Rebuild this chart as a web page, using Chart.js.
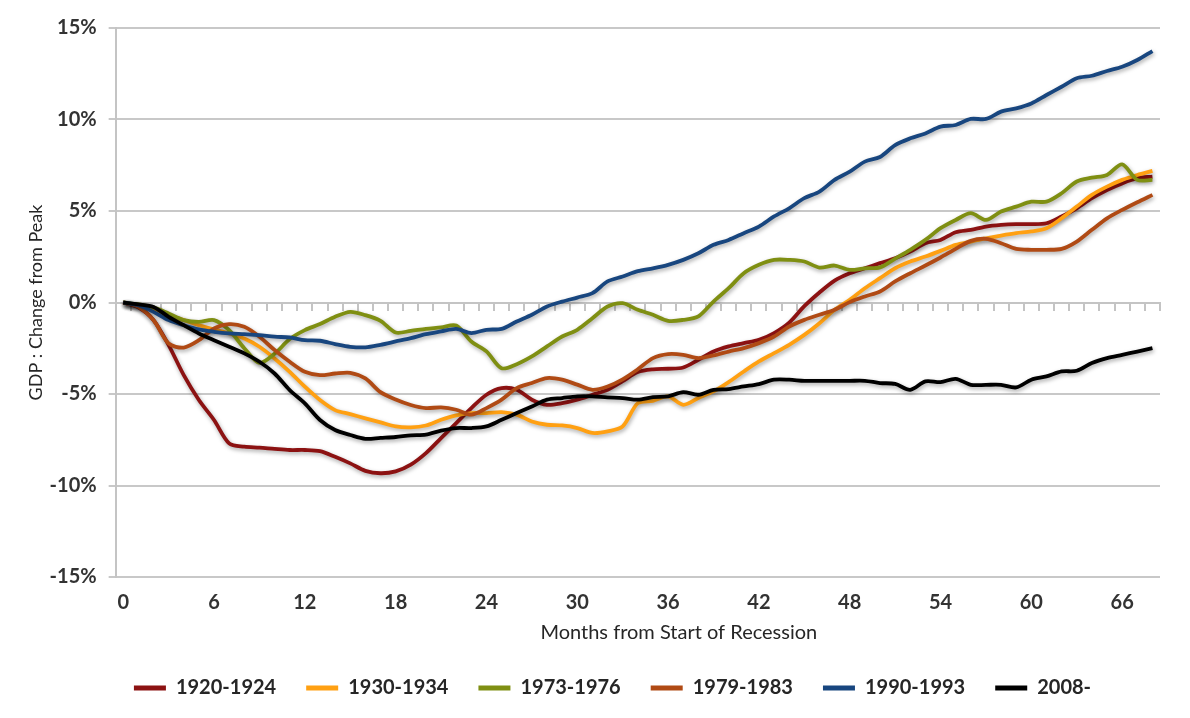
<!DOCTYPE html>
<html><head><meta charset="utf-8">
<script src="https://cdn.jsdelivr.net/npm/chart.js@4.4.0/dist/chart.umd.min.js"></script>
<style>html,body{margin:0;padding:0;background:#fff;}#wrap{width:1190px;height:718px;position:relative;}</style>
</head><body><div id="wrap"><canvas id="c"></canvas></div>
<script>
// Months from start of recession (categories)
const months = ['0','1','2','3','4','5','6','7','8','9','10','11','12','13','14','15','16','17','18','19','20','21','22','23','24','25','26','27','28','29','30','31','32','33','34','35','36','37','38','39','40','41','42','43','44','45','46','47','48','49','50','51','52','53','54','55','56','57','58','59','60','61','62','63','64','65','66','67','68'];
const xTickLabels = ['0','6','12','18','24','30','36','42','48','54','60','66'];
const yTickValues = [-15,-10,-5,0,5,10,15];
const seriesNames = ['1920-1924','1930-1934','1973-1976','1979-1983','1990-1993','2008-'];
const xAxisTitle = 'Months from Start of Recession';
const yAxisTitle = 'GDP : Change from Peak';

// GDP change from peak (%)
const s1920 = [0,-0.27,-0.96,-2.33,-3.97,-5.33,-6.42,-7.70,-7.88,-7.93,-8.0,-8.06,-8.06,-8.12,-8.43,-8.79,-9.2,-9.33,-9.23,-8.86,-8.23,-7.41,-6.59,-5.77,-5.04,-4.68,-4.77,-5.31,-5.59,-5.50,-5.31,-5.04,-4.77,-4.3,-3.8,-3.65,-3.62,-3.55,-3.13,-2.68,-2.4,-2.22,-2.04,-1.67,-1.1,-0.2,0.55,1.2,1.6,1.87,2.15,2.42,2.78,3.24,3.42,3.84,3.97,4.15,4.24,4.28,4.28,4.33,4.70,5.15,5.70,6.15,6.51,6.79,6.88];
const s1930 = [0,-0.15,-0.33,-0.69,-0.96,-1.24,-1.47,-1.69,-1.97,-2.42,-3.06,-3.79,-4.60,-5.33,-5.88,-6.10,-6.33,-6.55,-6.77,-6.82,-6.72,-6.41,-6.17,-6.04,-6.04,-5.99,-6.13,-6.50,-6.68,-6.72,-6.86,-7.13,-7.04,-6.77,-5.50,-5.37,-5.13,-5.59,-5.22,-4.86,-4.35,-3.77,-3.22,-2.77,-2.31,-1.77,-1.13,-0.40,0.15,0.78,1.33,1.87,2.24,2.51,2.82,3.15,3.33,3.51,3.66,3.79,3.88,4.06,4.60,5.24,5.88,6.33,6.70,6.97,7.19];
const s1973 = [0,-0.1,-0.27,-0.60,-0.96,-1.06,-0.96,-1.51,-2.5,-3.3,-2.8,-2.0,-1.51,-1.18,-0.78,-0.51,-0.69,-1.0,-1.64,-1.55,-1.44,-1.36,-1.26,-2.13,-2.67,-3.59,-3.37,-2.95,-2.40,-1.86,-1.49,-0.86,-0.22,-0.04,-0.40,-0.67,-1.0,-0.95,-0.76,0.05,0.78,1.60,2.06,2.33,2.33,2.24,1.91,2.02,1.78,1.87,1.92,2.4,2.88,3.42,4.06,4.51,4.88,4.51,4.97,5.24,5.51,5.51,5.97,6.61,6.82,6.97,7.55,6.70,6.70];
const s1979 = [0,-0.24,-0.96,-2.24,-2.46,-2.06,-1.42,-1.18,-1.33,-1.87,-2.60,-3.24,-3.79,-3.97,-3.88,-3.84,-4.15,-4.9,-5.3,-5.6,-5.77,-5.73,-5.86,-6.13,-5.77,-5.31,-4.68,-4.40,-4.13,-4.22,-4.49,-4.77,-4.59,-4.2,-3.65,-3.04,-2.82,-2.86,-3.04,-2.89,-2.68,-2.49,-2.22,-1.86,-1.31,-0.95,-0.67,-0.40,0.02,0.33,0.6,1.15,1.60,2.02,2.46,2.93,3.37,3.48,3.24,2.93,2.88,2.88,2.93,3.33,3.97,4.60,5.06,5.48,5.88];
const s1990 = [0,-0.15,-0.51,-0.96,-1.24,-1.47,-1.60,-1.69,-1.73,-1.78,-1.87,-1.91,-2.06,-2.09,-2.27,-2.42,-2.45,-2.31,-2.13,-1.95,-1.73,-1.58,-1.44,-1.67,-1.49,-1.44,-1.04,-0.67,-0.22,0.05,0.27,0.51,1.15,1.42,1.71,1.87,2.06,2.33,2.69,3.15,3.42,3.79,4.15,4.70,5.15,5.70,6.06,6.70,7.15,7.70,7.95,8.6,8.97,9.24,9.61,9.70,10.03,10.03,10.43,10.61,10.88,11.34,11.79,12.25,12.39,12.65,12.88,13.25,13.74];
const s2008 = [0,-0.1,-0.24,-0.78,-1.24,-1.69,-2.06,-2.42,-2.78,-3.24,-3.88,-4.79,-5.51,-6.42,-6.97,-7.24,-7.45,-7.4,-7.35,-7.26,-7.22,-7.0,-6.86,-6.86,-6.77,-6.41,-6.04,-5.68,-5.31,-5.22,-5.13,-5.13,-5.19,-5.22,-5.31,-5.17,-5.13,-4.9,-5.04,-4.77,-4.73,-4.59,-4.46,-4.22,-4.22,-4.28,-4.28,-4.28,-4.28,-4.28,-4.4,-4.45,-4.77,-4.31,-4.35,-4.17,-4.50,-4.50,-4.50,-4.64,-4.22,-4.04,-3.77,-3.73,-3.31,-3.04,-2.86,-2.68,-2.49];

const seriesValues = [s1920, s1930, s1973, s1979, s1990, s2008];
const seriesColors = ['#8c1212', '#ffa012', '#7f8f12', '#b04a14', '#18467f', '#000000'];

Chart.defaults.font.family = 'Lato, "Open Sans", sans-serif';

const shadowPlugin = {
  id: 'lineShadow',
  beforeDatasetDraw(chart) {
    const ctx = chart.ctx;
    ctx.save();
    ctx.shadowColor = 'rgba(0,0,0,0.35)';
    ctx.shadowBlur = 4;
    ctx.shadowOffsetX = 1;
    ctx.shadowOffsetY = 2;
  },
  afterDatasetDraw(chart) { chart.ctx.restore(); }
};

// Excel-style layout tweaks: legend shifted right, x-axis title off-centre
const layoutPlugin = {
  id: 'layoutTweaks',
  afterLayout(chart) {
    const lg = chart.legend;
    if (lg) { lg.left += 24; lg.right += 24; }
  },
  afterDraw(chart) {
    const x = chart.scales.x;
    const ctx = chart.ctx;
    ctx.save();
    ctx.font = '20px Lato, "Open Sans", sans-serif';
    ctx.fillStyle = '#262626';
    ctx.textAlign = 'center';
    ctx.textBaseline = 'middle';
    ctx.fillText(xAxisTitle, (x.left + x.right) / 2 + 41, x.top + 56);
    ctx.restore();
  }
};

const datasets = seriesNames.map((name, i) => ({
  label: name,
  data: seriesValues[i],
  borderColor: seriesColors[i],
  backgroundColor: seriesColors[i],
  borderWidth: 3.8,
  pointRadius: 0,
  tension: 0.3,
  fill: false,
  order: seriesNames.length - i,
  xAxisID: 'x',
  yAxisID: 'y'
}));

new Chart(document.getElementById('c'), {
  type: 'line',
  data: { labels: months, datasets },
  plugins: [shadowPlugin, layoutPlugin],
  options: {
    responsive: true,
    maintainAspectRatio: false,
    devicePixelRatio: 1,
    animation: false,
    layout: { padding: { left: 17, right: 30, top: 28, bottom: 10 } },
    plugins: {
      tooltip: { enabled: false },
      legend: {
        position: 'bottom',
        labels: {
          boxWidth: 32, boxHeight: 5, padding: 30,
          color: '#262626',
          font: { size: 20, weight: 'bold' },
          generateLabels(chart) {
            const items = Chart.defaults.plugins.legend.labels.generateLabels(chart);
            items.forEach(it => { it.lineWidth = 0; });
            return items.sort((a, b) => a.datasetIndex - b.datasetIndex);
          }
        }
      }
    },
    scales: {
      x: {
        type: 'category',
        offset: true,
        grid: { display: false, drawTicks: false },
        border: { display: false },
        ticks: {
          autoSkip: false, maxRotation: 0, padding: 14,
          color: '#333333',
          font: { size: 20, weight: 'bold' },
          callback(v, i) { const l = months[i]; return xTickLabels.includes(l) ? l : ''; }
        },
        afterFit(scale) { scale.height = 71; }
      },
      xZero: {
        type: 'category',
        labels: months,
        offset: true,
        position: { y: 0 },
        grid: { display: true, drawOnChartArea: false, drawTicks: true, tickLength: 7, color: '#c4c4c4', lineWidth: 2, offset: true },
        border: { display: true, color: '#c4c4c4', width: 2 },
        ticks: { display: false }
      },
      y: {
        min: -15, max: 15,
        afterBuildTicks(axis) { axis.ticks = yTickValues.map(v => ({ value: v })); },
        grid: { color: '#c8c8c8', lineWidth: 2, tickLength: 7 },
        border: { display: true, color: '#c4c4c4', width: 2 },
        ticks: {
          padding: 12, color: '#333333',
          font: { size: 20, weight: 'bold' },
          callback(v) { return v + '%'; }
        },
        title: {
          display: true, text: yAxisTitle,
          color: '#262626', font: { size: 18 }, padding: { top: 8, bottom: -9 }
        }
      }
    }
  }
});
</script></body></html>
